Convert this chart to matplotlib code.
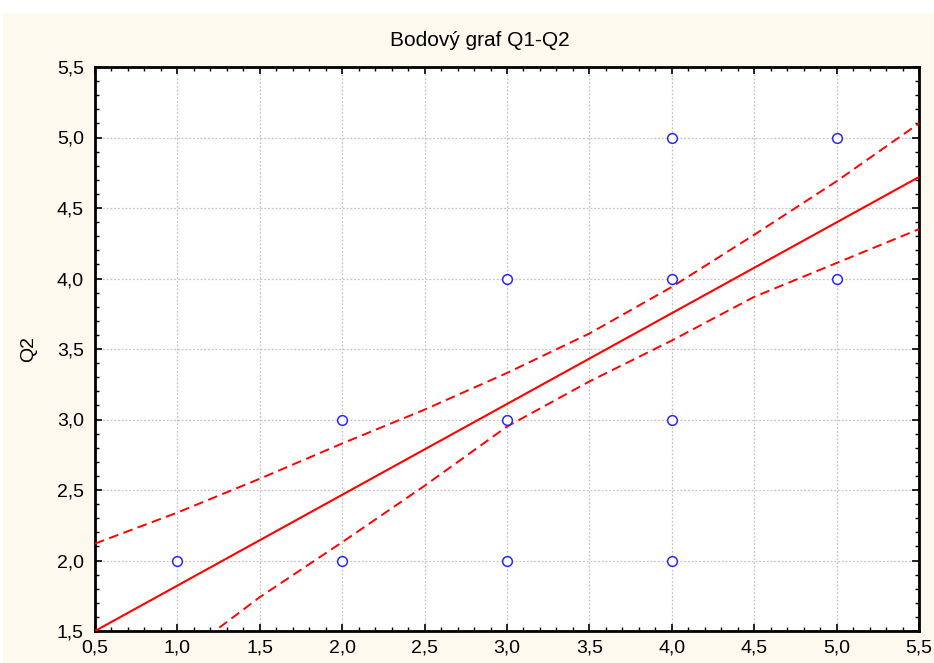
import matplotlib
matplotlib.use("Agg")
import matplotlib.pyplot as plt
from matplotlib.ticker import MultipleLocator, FuncFormatter
from matplotlib.patches import Rectangle

plt.rcParams['font.family'] = ['Liberation Sans', 'DejaVu Sans']

# Observations (Q1, Q2)
q1 = [1, 2, 2, 3, 3, 3, 4, 4, 4, 4, 5, 5]
q2 = [2, 2, 3, 2, 3, 4, 2, 3, 4, 5, 4, 5]

# Fitted regression line
fit_x = [0.5, 5.5]
fit_y = [1.50, 4.72]

# 95% confidence band of the regression line
band_x = [0.5, 1.0, 1.5, 2.0, 2.5, 3.0, 3.5, 4.0, 4.5, 5.0, 5.5]
band_upper = [2.12, 2.34, 2.58, 2.83, 3.07, 3.33, 3.61, 3.94, 4.31, 4.69, 5.10]
band_lower = [0.88, 1.30, 1.74, 2.13, 2.53, 2.95, 3.27, 3.56, 3.87, 4.11, 4.35]

title = "Bodový graf Q1-Q2"
ylabel = "Q2"

W, H = 934, 663
fig = plt.figure(figsize=(W / 100, H / 100), dpi=100)
fig.patch.set_facecolor('white')
# cream panel behind the chart
fig.patches.append(Rectangle((3 / W, 0), 1, 1 - 13 / H, transform=fig.transFigure,
                             facecolor='#FDF9EE', edgecolor='none', zorder=-10))

ax = fig.add_axes([95 / W, 1 - 631 / H, (919 - 95) / W, (631 - 67) / H])
ax.set_facecolor('white')

ax.plot(fit_x, fit_y, color='#FF0000', lw=1.5, zorder=3)
for band in (band_upper, band_lower):
    ln, = ax.plot(band_x, band, color='#FF0000', lw=1.4, zorder=3)
    ln.set_dashes((5.0, 2.8))
ax.plot(q1, q2, linestyle='none', marker='o', ms=7, mfc='white',
        mec='#2828FF', mew=1.1, zorder=4)

ax.set_xlim(0.5, 5.5)
ax.set_ylim(1.5, 5.5)
ax.xaxis.set_major_locator(MultipleLocator(0.5))
ax.yaxis.set_major_locator(MultipleLocator(0.5))
ax.xaxis.set_minor_locator(MultipleLocator(0.1))
ax.yaxis.set_minor_locator(MultipleLocator(0.1))
fmt = FuncFormatter(lambda v, p: f"{v:.1f}".replace('.', ','))
ax.xaxis.set_major_formatter(fmt)
ax.yaxis.set_major_formatter(fmt)

ax.tick_params(which='both', direction='in', top=True, right=True, color='black')
ax.tick_params(which='major', length=5, width=1.2, labelsize=14)
ax.tick_params(which='minor', length=3, width=1.0)
ax.tick_params(axis='x', which='major', pad=6)
ax.tick_params(axis='y', which='major', pad=8)

ax.grid(True, which='major', color='#C4C4C4', lw=0.9, linestyle=(0, (1.5, 1.5)))
ax.set_axisbelow(True)
for s in ax.spines.values():
    s.set_linewidth(2.0)
    s.set_color('black')

fig.text(480 / W, 1 - 46 / H, title, fontsize=15, ha='center', va='baseline')
ax.set_ylabel(ylabel, fontsize=14, labelpad=14)

fig.savefig("out.png", dpi=100, facecolor=fig.get_facecolor())
